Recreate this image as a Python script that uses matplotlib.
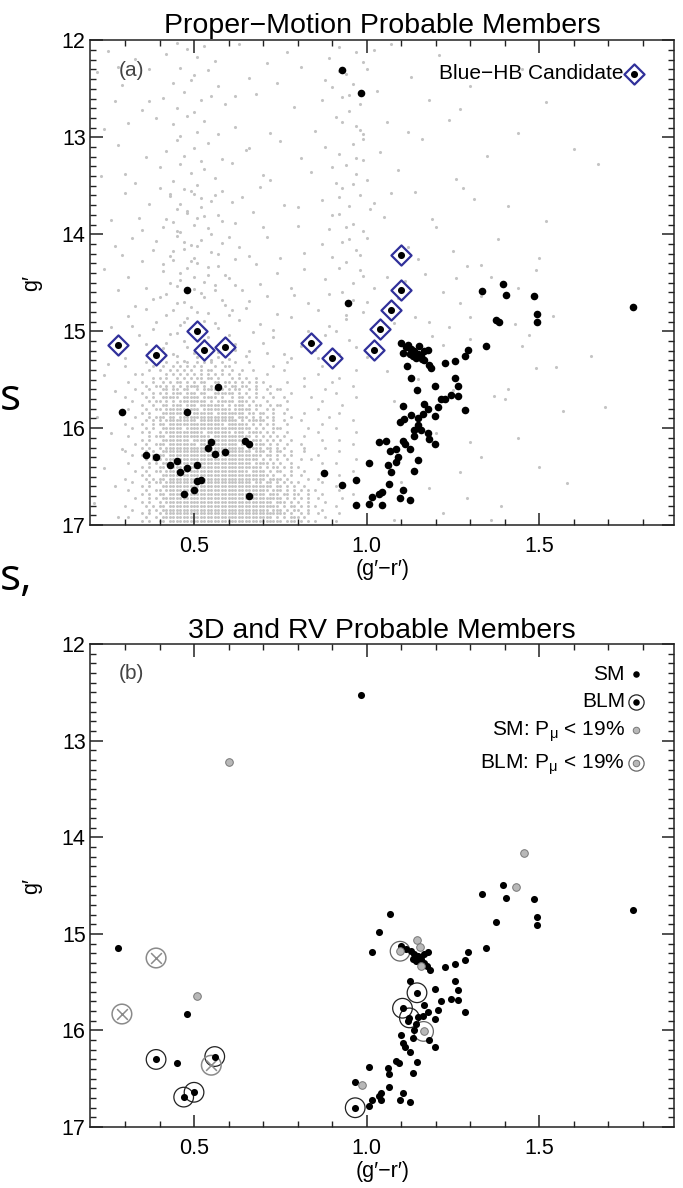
import numpy as np
import matplotlib.pyplot as plt
from matplotlib.legend_handler import HandlerTuple

plt.rcParams['font.family'] = ['Liberation Sans', 'DejaVu Sans']

# ---- panel (a): field stars (grey) outside the crowded part ----
field_x = [0.45, 0.51, 0.48, 0.56, 0.42, 0.53, 0.25, 0.33, 0.63, 0.71, 0.92, 0.97, 0.99, 0.89, 1.07, 1.21, 1.02, 0.77,
           0.46, 0.50, 0.54, 0.44, 0.57, 0.49, 0.22, 0.29, 0.37, 0.66, 0.81, 0.94, 0.96, 1.00, 0.90, 1.13, 1.30, 1.45, 0.74,
           0.47, 0.52, 0.45, 0.55, 0.50, 0.59, 0.41, 0.27, 0.35, 0.68, 0.79, 0.93, 0.98, 0.95, 1.03, 1.18, 1.27, 1.52, 0.87,
           0.48, 0.44, 0.53, 0.51, 0.57, 0.46, 0.39, 0.24, 0.31, 0.62, 0.72, 0.91, 0.97, 0.99, 0.85, 1.06, 1.12, 1.24, 1.44,
           0.45, 0.50, 0.47, 0.54, 0.58, 0.42, 0.52, 0.28, 0.36, 0.65, 0.75, 0.92, 0.96, 0.99, 0.88, 1.04, 1.16, 1.35, 1.60, 0.81,
           0.46, 0.49, 0.53, 0.44, 0.56, 0.51, 0.40, 0.23, 0.33, 0.61, 0.70, 0.94, 0.97, 0.91, 1.00, 1.09, 1.26, 1.67, 0.84,
           0.47, 0.43, 0.50, 0.55, 0.52, 0.58, 0.45, 0.30, 0.37, 0.64, 0.76, 0.93, 0.98, 0.95, 0.87, 1.02, 1.14, 1.31, 0.69,
           0.48, 0.44, 0.51, 0.54, 0.46, 0.57, 0.41, 0.26, 0.35, 0.62, 0.67, 0.80, 0.92, 0.96, 0.99, 1.05, 1.20, 1.52, 0.89,
           0.45, 0.49, 0.52, 0.55, 0.43, 0.58, 0.47, 0.50, 0.32, 0.38, 0.29, 0.63, 0.71, 0.82, 0.93, 0.97, 1.00, 0.90, 1.12, 1.38, 1.50, 0.66,
           0.44, 0.48, 0.51, 0.54, 0.46, 0.57, 0.41, 0.53, 0.60, 0.24, 0.35, 0.31, 0.68, 0.74, 0.88, 0.94, 0.98, 1.06, 1.11, 1.17, 1.26, 1.29, 1.33, 1.49,
           0.45, 0.42, 0.50, 0.47, 0.53, 0.56, 0.59, 0.62, 0.38, 0.28, 0.33, 0.71, 0.78, 0.83, 0.93, 0.96, 1.02, 1.09, 1.22, 1.27, 1.33, 1.44, 0.66,
           0.44, 0.48, 0.51, 0.46, 0.53, 0.57, 0.60, 0.39, 0.31, 0.26, 0.36, 0.65, 0.69, 0.78, 0.86, 0.89, 0.94, 0.99, 1.14, 1.18, 1.24, 1.30, 1.43, 0.73,
           0.43, 0.47, 0.50, 0.54, 0.57, 0.62, 0.45, 0.41, 0.34, 0.37, 0.30, 0.66, 0.73, 0.76, 0.81, 0.88, 0.92, 0.95, 1.00, 1.11, 1.19, 1.22, 1.30, 1.45, 1.47, 1.65, 0.70, 0.85,
           0.24, 0.27, 0.22, 0.26, 0.29, 0.24, 0.27, 0.21, 0.28, 0.25,
           1.06, 1.08, 1.15, 1.10, 1.25, 1.30, 1.27, 1.29, 1.37, 1.40, 1.41, 1.39, 1.49, 1.55, 1.57, 1.69, 1.50, 1.58, 1.20, 1.22,
           1.33, 1.18, 1.44, 1.08, 1.36,
           0.40, 0.43, 0.49, 0.52, 0.56, 0.61, 0.46, 0.48, 0.53, 0.42, 0.58, 0.50, 0.45, 0.55, 0.60, 0.39, 0.47, 0.51, 0.44, 0.57,
           0.62, 0.49, 0.41, 0.54, 0.46, 0.59, 0.50, 0.43, 0.56, 0.48, 0.64, 0.52, 0.40, 0.45, 0.58, 0.61, 0.49, 0.54, 0.42, 0.47,
           0.63, 0.56, 0.38, 0.51, 0.45, 0.60, 0.67, 0.53, 0.42, 0.48, 0.62, 0.57, 0.44, 0.51, 0.65, 0.39, 0.55, 0.47, 0.60, 0.36,
           0.88, 0.95, 0.93, 0.99, 0.90, 0.96, 0.92, 1.01, 0.94, 0.87, 0.98, 0.92, 0.96, 0.89, 1.00, 0.94, 0.91, 0.97, 0.86, 0.99,
           0.95, 0.90, 0.97, 0.92, 0.98,
           0.30, 0.34, 0.27, 0.36, 0.32, 0.72, 0.70, 0.75, 0.69, 0.79, 0.74, 0.83, 0.78, 0.71, 0.82, 0.80, 0.66, 0.62, 0.37, 0.28,
           1.07, 1.15, 1.08, 1.19, 1.28, 1.25, 1.41, 1.36, 1.54, 1.12]
field_y = [12.03, 12.17, 12.09, 12.21, 12.14, 12.06, 12.11, 12.19, 12.04, 12.23, 12.07, 12.12, 12.22, 12.18, 12.04, 12.15, 12.10, 12.12,
           12.28, 12.36, 12.31, 12.44, 12.47, 12.41, 12.33, 12.46, 12.30, 12.39, 12.27, 12.35, 12.45, 12.29, 12.48, 12.38, 12.47, 12.30, 12.44,
           12.53, 12.62, 12.70, 12.57, 12.74, 12.66, 12.59, 12.63, 12.72, 12.55, 12.69, 12.58, 12.66, 12.73, 12.52, 12.61, 12.71, 12.64, 12.62,
           12.78, 12.86, 12.83, 12.94, 12.97, 12.99, 12.80, 12.91, 12.85, 12.89, 12.96, 12.79, 12.88, 12.97, 12.93, 12.84, 12.95, 12.82, 12.96,
           13.03, 13.11, 13.19, 13.06, 13.22, 13.14, 13.24, 13.08, 13.20, 13.13, 13.04, 13.17, 13.07, 13.23, 13.10, 13.15, 13.02, 13.19, 13.12, 13.21,
           13.28, 13.37, 13.33, 13.45, 13.42, 13.49, 13.31, 13.40, 13.47, 13.26, 13.39, 13.29, 13.38, 13.47, 13.44, 13.34, 13.43, 13.27, 13.36,
           13.53, 13.61, 13.58, 13.66, 13.72, 13.55, 13.74, 13.57, 13.69, 13.62, 13.70, 13.52, 13.60, 13.71, 13.65, 13.68, 13.56, 13.64, 13.51,
           13.78, 13.87, 13.83, 13.94, 13.98, 13.80, 13.92, 13.85, 13.96, 13.88, 13.77, 13.91, 13.79, 13.89, 13.97, 13.82, 13.93, 13.86, 13.95,
           14.02, 14.11, 14.06, 14.18, 14.22, 14.09, 14.15, 14.24, 14.04, 14.16, 14.21, 14.13, 14.03, 14.19, 14.08, 14.16, 14.04, 14.23, 14.13, 14.05, 14.24, 14.22,
           14.27, 14.35, 14.30, 14.42, 14.47, 14.33, 14.38, 14.49, 14.45, 14.36, 14.28, 14.44, 14.31, 14.40, 14.46, 14.29, 14.37, 14.44, 14.48, 14.41, 14.45, 14.33, 14.32, 14.37,
           14.53, 14.62, 14.56, 14.70, 14.65, 14.58, 14.73, 14.52, 14.67, 14.58, 14.74, 14.64, 14.55, 14.71, 14.60, 14.68, 14.55, 14.66, 14.60, 14.71, 14.64, 14.55, 14.69,
           14.78, 14.86, 14.80, 14.94, 14.89, 14.97, 14.83, 14.91, 14.84, 14.96, 14.77, 14.76, 14.93, 14.85, 14.78, 14.95, 14.87, 14.80, 14.85, 14.91, 14.96, 14.85, 14.93, 14.99,
           15.03, 15.10, 15.22, 15.06, 15.27, 15.13, 15.26, 15.17, 15.04, 15.21, 15.28, 15.20, 15.06, 15.23, 15.15, 15.04, 15.24, 15.09, 15.27, 15.25, 15.05, 15.14, 15.08, 15.15, 15.04, 15.26, 15.12, 15.19,
           15.45, 15.62, 15.88, 16.05, 16.22, 16.41, 16.60, 16.77, 16.92, 15.34,
           15.41, 15.72, 15.49, 16.56, 15.61, 16.14, 16.45, 16.72, 15.67, 15.70, 15.60, 16.80, 15.38, 15.37, 15.82, 15.78, 16.40, 16.57, 16.05, 16.88,
           16.30, 16.62, 16.10, 16.95, 16.95,
           13.52, 13.58, 13.55, 13.63, 13.59, 13.67, 13.69, 13.76, 13.81, 13.84, 13.86, 13.90, 13.97, 14.00, 14.03, 14.07, 14.08, 14.12, 14.17, 14.20,
           14.26, 14.28, 14.31, 14.34, 14.40, 14.42, 14.44, 14.50, 14.52, 14.59, 14.57, 14.61, 14.65, 14.71, 14.68, 14.78, 14.75, 14.81, 14.83, 14.90,
           14.88, 14.92, 14.98, 15.00, 15.02, 15.04, 15.01, 15.09, 15.12, 15.16, 15.19, 15.21, 15.23, 15.27, 15.26, 15.29, 15.30, 15.31, 15.29, 15.13,
           12.41, 12.56, 12.84, 13.02, 13.31, 13.48, 13.62, 13.74, 13.92, 14.10, 14.21, 14.35, 14.50, 14.62, 14.70, 14.83, 15.00, 15.16, 15.28, 14.43,
           14.05, 13.80, 13.21, 12.32, 12.92,
           13.38, 13.83, 14.12, 14.55, 14.95, 13.44, 13.93, 14.24, 14.51, 14.63, 14.82, 15.00, 15.28, 15.22, 14.36, 13.72, 13.11, 12.57, 12.63, 12.27,
           13.57, 14.26, 14.92, 13.84, 13.52, 14.17, 13.71, 14.44, 14.84, 15.21]

# ---- panel (a): crowded part, one map row per g' value; '#' = star,
#      each character is 0.01 in (g'-r') starting at 0.30 (spaces only group) ----
crowd_mag = [15.32, 15.36, 15.40, 15.44, 15.48, 15.52, 15.56, 15.60, 15.64, 15.68,
             15.72, 15.76, 15.80, 15.84, 15.88, 15.92, 15.96, 16.00, 16.04, 16.08,
             16.12, 16.16, 16.20, 16.24, 16.28, 16.32, 16.36, 16.40, 16.44, 16.48,
             16.52, 16.56, 16.60, 16.64, 16.68, 16.72, 16.76, 16.80, 16.84, 16.88,
             16.92, 16.96]
crowd_map = [
    "..... .#... ..#.. #..#. .#.#. #..#. ..#.. .#... ..... ..#.. ..... ..... .#... ..... .....",
    "#.... ...#. .#..# .#.#. #.#.. .#..# #.... ..... ...#. ..... ..... ..#.. ..... ..... .....",
    "..... ..#.. #..#. #.#.# ..#.# #..#. .#..# ..#.. ..... .#... ..... ..... ..... ..#.. .....",
    "...#. #.... ..#.# .#.#. #.#.# .#.#. #..#. ..... .#... ..... ..... .#... ..... ..... .....",
    "..... ...#. #.#.. #.#.# .##.# #.#.. .#.#. #..#. ..... ..... ..#.. ..... ..#.. ..... .....",
    ".#... #..#. .#.#. ##.#. #.##. .##.# #.#.# .#.#. #.... ..#.. ..... ..... #.... ..... .....",
    "..... .#..# #.#.# .#.## ##.#. #.#.# .##.# #..#. ..#.. ..... ..#.. ..... ..... .#... .....",
    "...#. ..#.. .##.# #.##. .#.## ##.#. #.##. .#.#. .#..# #.... ..... ...#. ..... ..... .....",
    "..... #..#. #.#.# ##.## #.##. .#### ##.#. #..#. ..#.. ...#. ..... ..... .#... ..... .....",
    "#.... .#.#. .#### #.### ##.## ##.#. .#.## .#.#. #..#. .#... ....# ..... ..... ..#.. .....",
    "..#.. ..#.# #.#.# .#### ####. #.### ##.## #.#.. .#... ..#.. ..... ..#.. ..... ..... .....",
    "..... #..#. .##.# ##.## #.### ####. #.### .#.## ..#.# #.... ..... ..... ...#. ..... .....",
    ".#... .#..# #.### ##### ##.## ##### #.### ##.#. .#.#. ..#.. ..... .#... ..... ..... .....",
    "..... #.#.. .#### ####. ##### #.### ##### .##.# #..#. .#... ..#.. ..... ..#.. ..... .....",
    "...#. ..#.# ##.## .#### ##### ##### ##.## #.#.# .#.#. ...#. ..... ....# ..... ..... .....",
    "..... .#.#. #.### ##### #.### ##### ###.# .#### #..#. .#... .#... ..... ..... .#... .....",
    "#.... #..#. ##.## ##### ##### ####. ##### #.#.# .#.#. ..#.. ..... ..#.. ..... ..... .....",
    "..#.. .#.#. .#### ##.## ##### ##### ##### ##.#. #..## #.... ...#. ..... .#... ..... .....",
    "..... #.#.. #.### ##### ###.# ##### #.### .#### .#.#. ..#.. ..... .#... ..... ..#.. .....",
    ".#... ..#.# ##.## ##### ##### .#### ##### ##.#. #.#.# .#... ..#.. ..... ..... ..... .....",
    "..... #.#.. .#### ####. ##### ##### ##### #.### .#.#. #..#. ..... ..#.. ..#.. ..... .....",
    "...#. .#..# ##.## ##### #.### ##### ###.# ##.## #.#.# ..#.. .#... ..... ..... .#... .....",
    "..... #.#.. #.### ##### ##### ##### ##### .#### .##.# .#... ..#.. ...#. ..... ..... .....",
    "#.... .#.#. .#### ##### ##### ##### ##### ##.## #.#.# #..#. ..#.. ..... ..#.. ..... .....",
    "..#.. #..#. ##.## ##### ##### ##### ##### ##### .##.# .#.#. ..... .#... ..... ..... .....",
    "..... .#.#. #.### ##### ##### ##### ##### ####. #.#.# ..#.. .#..# ..... ..... ..#.. .....",
    ".#... ..#.# .#### ##### ##### ##### ##### ##.## ##.#. #..#. ..... ..#.. .#... ..... .....",
    "..... #.#.. ##.## ##### ##### ##### ##### ##### .#.## .#.#. #.... ..... ..... ..... .....",
    "...#. .#..# #.### ##### ##### ##### ##### #.### #.#.# #..#. ..#.. ...#. ..... .#... .....",
    "..... #.#.. .#### ##### ##### ##### ##### ##### ##.#. .#.#. .#... ..... ..#.. ..... .....",
    "#.... .#.#. ##.## ##### ##### ##### ##### ##### #.### #.#.. ...#. .#... ..... ..... .....",
    "..#.. ..#.# #.### ##### ##### ##### ##### ##.## .##.# .#.#. #.... ..#.. ..... ..#.. .....",
    "..... #.#.. .#### ##### ##### ##### ##### ##### ###.# #.#.# ..#.. ..... .#... ..... .....",
    ".#... .#..# #.### ##### ##### ##### ##### ##### ##.## #.#.# .#.#. #.... ..#.. ..... .....",
    "..... #.#.. ##.## ##### ##### ##### ##### ##### #.### .##.# #..#. ..#.. ..... .#... .....",
    "...#. ..#.# .#### ##### ##### ##### ##### ##### ##### #.#.# .#.#. .#... ...#. ..... .....",
    "..... #.#.. #.### ##### ##### ##### ##### ##### ###.# ##.#. #..#. ...#. ..... ..... .....",
    "#.... .#.#. ##.## ##### ##### ##### ##### ##### ##### .#.## .#.#. #.... .#... ..#.. .....",
    "..#.. ..#.# .#### ##### ##### ##### ##### ##### ##.## #.#.# #..#. ..#.. ..... ..... .....",
    "..... #.#.. #.### ##### ##### ##### ##### ##### ##### ##.#. .#.#. .#... ..#.. ..... .....",
    ".#... .#..# .#### ##### ##### ##### ##### ##### ###.# .#.## #.#.. ...#. ..... ..... .....",
    "..... #.#.. ##.## ##### ##### ##### ##### ##### ##### #.### .#.#. #.... .#... ..... .....",
]
crowd_start = 0.30

# ---- panel (a): proper-motion members (black) ----
pm_x = [0.929, 0.984, 0.48, 0.945,
        0.291, 0.48, 0.57, 0.549, 0.54, 0.56, 0.589, 0.647, 0.66, 0.36, 0.39,
        0.429, 0.45, 0.46, 0.48, 0.51, 0.51, 0.52, 0.47, 0.499, 0.66,
        0.877, 0.928, 0.968, 0.968, 1.008, 1.008, 1.035, 1.017, 1.035,
        1.335, 1.395, 1.405, 1.484, 1.494, 1.494, 1.376, 1.385, 1.773,
        1.345, 1.295, 1.286, 1.257, 1.226,
        1.10, 1.114, 1.129, 1.138, 1.148, 1.158, 1.167, 1.177, 1.134, 1.143,
        1.167, 1.182, 1.187, 1.117, 1.128, 1.145, 1.197, 1.257, 1.266, 1.266,
        1.245, 1.226, 1.216, 1.206, 1.197, 1.286, 1.165, 1.177, 1.163, 1.106,
        1.128, 1.107, 1.097, 1.148, 1.148, 1.137, 1.158, 1.177, 1.137, 1.182,
        1.197, 1.106, 1.112, 1.056, 1.126, 1.085, 1.068, 1.090, 1.061, 1.085,
        1.071, 1.148, 1.137, 1.066, 1.106, 1.097, 1.126, 1.046, 1.046,
        1.12, 1.105, 1.125, 1.152, 1.16]
pm_y = [12.31, 12.54, 14.57, 14.71,
        15.83, 15.83, 15.58, 16.14, 16.20, 16.27, 16.25, 16.13, 16.16, 16.28, 16.30,
        16.38, 16.34, 16.45, 16.41, 16.38, 16.54, 16.53, 16.68, 16.64, 16.70,
        16.46, 16.59, 16.53, 16.79, 16.36, 16.78, 16.14, 16.71, 16.68,
        14.59, 14.51, 14.63, 14.64, 14.82, 14.90, 14.88, 14.90, 14.75,
        15.15, 15.19, 15.26, 15.31, 15.33,
        15.12, 15.16, 15.18, 15.20, 15.23, 15.26, 15.20, 15.19, 15.26, 15.28,
        15.30, 15.35, 15.38, 15.36, 15.48, 15.61, 15.57, 15.48, 15.57, 15.67,
        15.66, 15.70, 15.70, 15.78, 15.87, 15.81, 15.75, 15.80, 15.85, 15.77,
        15.86, 15.91, 15.94, 15.90, 15.97, 16.02, 16.02, 16.05, 16.08, 16.11,
        16.16, 16.13, 16.16, 16.13, 16.22, 16.22, 16.24, 16.30, 16.38, 16.35,
        16.45, 16.33, 16.44, 16.58, 16.64, 16.72, 16.74, 16.66, 16.79,
        15.14, 15.22, 15.24, 15.15, 15.29]

# ---- panel (a): blue-HB candidates ----
hb_x = [0.28, 0.39, 0.51, 0.53, 0.59, 0.84, 0.90, 1.02, 1.04, 1.07, 1.10, 1.10]
hb_y = [15.14, 15.25, 15.00, 15.19, 15.16, 15.12, 15.28, 15.19, 14.98, 14.78, 14.57, 14.21]

# ---- panel (b) ----
sm_x = [0.984, 0.281, 0.48, 0.45, 0.967, 1.008, 1.008, 1.017, 1.035, 1.035, 1.017, 1.068,
        1.395, 1.335, 1.405, 1.484, 1.374, 1.494, 1.494, 1.773,
        1.345, 1.295, 1.286, 1.257, 1.226,
        1.10, 1.114, 1.129, 1.138, 1.148, 1.158, 1.167, 1.177, 1.134, 1.143,
        1.167, 1.185, 1.176, 1.127, 1.197, 1.257, 1.266, 1.266, 1.245, 1.216,
        1.206, 1.197, 1.286, 1.167, 1.177, 1.163, 1.148, 1.143, 1.138, 1.135,
        1.182, 1.197, 1.106, 1.112, 1.126, 1.085, 1.094, 1.061, 1.066, 1.135,
        1.146, 1.066, 1.106, 1.097, 1.126, 1.041, 1.041, 1.12, 1.10]
sm_y = [12.53, 15.15, 15.83, 16.34, 16.53, 16.38, 16.78, 16.72, 16.68, 14.98, 15.19, 14.79,
        14.49, 14.59, 14.63, 14.64, 14.88, 14.83, 14.91, 14.75,
        15.15, 15.19, 15.27, 15.31, 15.34,
        15.13, 15.16, 15.18, 15.21, 15.23, 15.26, 15.21, 15.19, 15.26, 15.28,
        15.30, 15.37, 15.33, 15.49, 15.57, 15.49, 15.58, 15.68, 15.67, 15.70,
        15.79, 15.88, 15.81, 15.74, 15.81, 15.85, 15.86, 15.93, 16.00, 16.08,
        16.10, 16.17, 16.13, 16.17, 16.22, 16.32, 16.34, 16.39, 16.45, 16.44,
        16.33, 16.59, 16.65, 16.72, 16.74, 16.65, 16.72, 15.90, 16.05]
blm_x = [0.39, 0.56, 0.47, 0.50, 0.967, 1.146, 1.104, 1.124]
blm_y = [16.30, 16.27, 16.69, 16.64, 16.80, 15.61, 15.77, 15.87]
smlow_x = [0.60, 0.51, 0.988, 1.455, 1.434, 1.146, 1.156, 1.158]
smlow_y = [13.22, 15.64, 16.56, 14.16, 14.51, 15.06, 15.14, 15.33]
blmlow_x = [1.097, 1.165]
blmlow_y = [15.18, 16.01]
cross_x = [0.39, 0.291, 0.55]
cross_y = [15.25, 15.83, 16.36]

cx, cy = [], []
for m, row in zip(crowd_mag, crowd_map):
    for i, ch in enumerate(row.replace(' ', '')):
        if ch == '#':
            cx.append(round(crowd_start + 0.01 * i, 2))
            cy.append(m)

fig = plt.figure(figsize=(6.83, 11.88), dpi=100)
ax1 = fig.add_axes([0.1325, 0.558, 0.854, 0.408])
ax2 = fig.add_axes([0.1325, 0.0513, 0.854, 0.4066])

for ax in (ax1, ax2):
    ax.set_xlim(0.2, 1.89)
    ax.set_ylim(17, 12)
    ax.set_xticks([0.5, 1.0, 1.5])
    ax.set_xticklabels(['0.5', '1.0', '1.5'])
    ax.set_xticks(np.arange(0.3, 1.9, 0.1), minor=True)
    ax.set_yticks([12, 13, 14, 15, 16, 17])
    ax.set_yticks(np.arange(12.1, 17, 0.1), minor=True)
    ax.tick_params(which='both', direction='in', top=True, right=True,
                   color='#222222', labelsize=15.5)
    ax.tick_params(which='major', length=9, width=1.1)
    ax.tick_params(which='minor', length=4.5, width=1.0)
    ax.tick_params(axis='x', which='major', pad=8)
    for s in ax.spines.values():
        s.set_linewidth(1.1)
        s.set_color('#222222')
    ax.set_xlabel("(g\u2032\u2212r\u2032)", fontsize=15.5, labelpad=1)
    ax.set_ylabel("g\u2032", fontsize=15.5, labelpad=14)

# panel (a)
ax1.scatter(field_x, field_y, s=5, c='#c4c4c4', linewidths=0, zorder=1)
ax1.scatter(cx, cy, s=4.5, c='#c4c4c4', linewidths=0, zorder=1)
ax1.scatter(pm_x, pm_y, s=30, c='black', linewidths=0, zorder=3)
dia = ax1.scatter(hb_x, hb_y, s=105, marker='D', facecolors='white',
                  edgecolors='#30309a', linewidths=1.6, zorder=4)
dot = ax1.scatter(hb_x, hb_y, s=26, c='black', linewidths=0, zorder=5)
ax1.set_title("Proper\u2212Motion Probable Members", fontsize=20.5, pad=5)
ax1.text(0.048, 0.938, "(a)", transform=ax1.transAxes, fontsize=15,
         color='#444444', va='center')
ax1.legend([(dia, dot)], ["Blue\u2212HB Candidate"],
           handler_map={tuple: HandlerTuple(ndivide=1)},
           loc='upper right', bbox_to_anchor=(0.986, 1.0),
           markerfirst=False, frameon=False, fontsize=15,
           handlelength=0.7, handletextpad=0.15, borderaxespad=0.75,
           scatterpoints=1)

# panel (b)
ax2.scatter(sm_x, sm_y, s=26, c='black', linewidths=0, zorder=3)
ax2.scatter(blm_x, blm_y, s=200, facecolors='none', edgecolors='#222222',
            linewidths=0.9, zorder=2)
ax2.scatter(blm_x, blm_y, s=26, c='black', linewidths=0, zorder=3)
ax2.scatter(smlow_x, smlow_y, s=30, c='#b8b8b8', edgecolors='#777777',
            linewidths=0.7, zorder=4)
ax2.scatter(blmlow_x, blmlow_y, s=200, facecolors='none',
            edgecolors='#666666', linewidths=0.9, zorder=2)
ax2.scatter(blmlow_x, blmlow_y, s=30, c='#b8b8b8', edgecolors='#777777',
            linewidths=0.7, zorder=4)
ax2.scatter(cross_x, cross_y, s=200, facecolors='none', edgecolors='#8a8a8a',
            linewidths=1.1, zorder=2)
ax2.scatter(cross_x, cross_y, s=60, marker='x', c='#8a8a8a', linewidths=1.1, zorder=2)

h_sm = ax2.scatter([], [], s=22, c='black', linewidths=0)
h_blm_r = ax2.scatter([], [], s=120, facecolors='white', edgecolors='#222222', linewidths=0.9)
h_blm_d = ax2.scatter([], [], s=22, c='black', linewidths=0)
h_low = ax2.scatter([], [], s=22, c='#b8b8b8', edgecolors='#777777', linewidths=0.7)
h_lr = ax2.scatter([], [], s=120, facecolors='white', edgecolors='#666666', linewidths=0.9)
h_ld = ax2.scatter([], [], s=22, c='#b8b8b8', edgecolors='#777777', linewidths=0.7)
ax2.legend([h_sm, (h_blm_r, h_blm_d), h_low, (h_lr, h_ld)],
           ["SM", "BLM", "SM: P$_\\mathregular{\u03bc}$ < 19%",
            "BLM: P$_\\mathregular{\u03bc}$ < 19%"],
           handler_map={tuple: HandlerTuple(ndivide=1)},
           loc='upper right', bbox_to_anchor=(0.986, 1.0),
           markerfirst=False, frameon=False, fontsize=15,
           handlelength=0.8, handletextpad=0.15, borderaxespad=0.6,
           labelspacing=0.4, scatterpoints=1)
ax2.set_title("3D and RV Probable Members", fontsize=20.5, pad=4)
ax2.text(0.048, 0.938, "(b)", transform=ax2.transAxes, fontsize=15,
         color='#444444', va='center')

# slide text cut at the left edge
fig.text(0.0, 0.655, "s", fontsize=32, family='Open Sans', va='baseline')
fig.text(0.0, 0.503, "s,", fontsize=32, family='Open Sans', va='baseline')

fig.savefig('out.png', dpi=100)
